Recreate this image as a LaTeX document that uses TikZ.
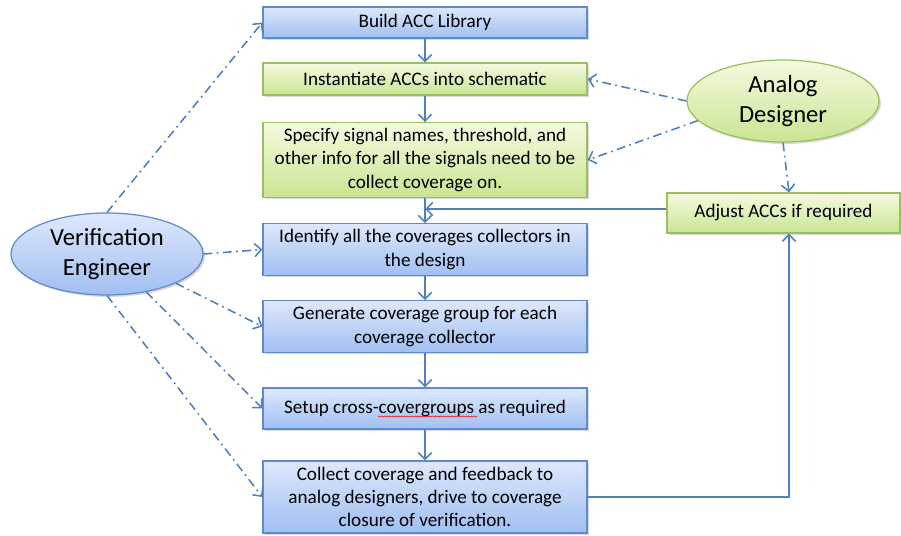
\documentclass[tikz,border=0pt]{standalone}
\usepackage{fontspec}
\setmainfont{Carlito}
\usetikzlibrary{arrows.meta,shadows,shapes.geometric,decorations.pathmorphing}

\definecolor{linie}{HTML}{4F81BD}
\definecolor{randblau}{HTML}{5F8ACB}
\definecolor{blauoben}{HTML}{DDE8FB}
\definecolor{blauunten}{HTML}{A0BFF2}
\definecolor{randgruen}{HTML}{9BBE5E}
\definecolor{gruenoben}{HTML}{F4FADF}
\definecolor{gruenunten}{HTML}{C8E592}

\begin{document}
\begin{tikzpicture}[
	kasten/.style={rectangle, draw=randblau, line width=0.7pt, top color=blauoben,
		bottom color=blauunten, minimum width=6.48cm, align=center,
		font=\fontsize{10.9}{13.2}\selectfont,
		drop shadow={opacity=0.3, shadow xshift=0.04cm, shadow yshift=-0.04cm}},
	gkasten/.style={kasten, draw=randgruen, top color=gruenoben, bottom color=gruenunten},
	rolle/.style={ellipse, draw=randblau, line width=0.7pt, top color=blauoben,
		bottom color=blauunten, minimum width=3.84cm, minimum height=1.64cm,
		inner sep=0pt, align=center, font=\fontsize{14}{17.1}\selectfont,
		drop shadow={opacity=0.3, shadow xshift=0.04cm, shadow yshift=-0.04cm}},
	grolle/.style={rolle, draw=randgruen, top color=gruenoben, bottom color=gruenunten},
	pfeil/.style={draw=linie, line width=0.9pt, -{Straight Barb[length=3.8pt,width=7.5pt]}},
	strichpunkt/.style={pfeil, dash pattern=on 5pt off 2.5pt on 1pt off 2.5pt}
]
	\useasboundingbox (0,0) rectangle (18.02,10.72);

	% Ablauf
	\node[kasten, minimum height=0.62cm] (lib) at (8.5,10.27) {Build ACC Library};
	\node[gkasten, minimum height=0.64cm] (inst) at (8.5,9.14) {Instantiate ACCs into schematic};
	\node[gkasten, minimum height=1.32cm] (spec) at (8.5,7.52) {Specify signal names, threshold, and\\
	other info for all the signals need to be\\ collect coverage on.};
	\node[kasten, minimum height=0.98cm] (ident) at (8.5,5.73) {Identify all the coverages collectors in\\
	the design};
	\node[kasten, minimum height=0.82cm] (gen) at (8.5,4.19) {Generate coverage group for each\\
	coverage collector};
	\node[kasten, minimum height=0.82cm] (cross) at (8.5,2.55) {Setup cross-covergroups as required};
	\node[kasten, minimum height=1.44cm] (collect) at (8.5,0.78) {Collect coverage and feedback to\\
	analog designers, drive to coverage\\ closure of verification.};
	\node[gkasten, minimum width=4.66cm, minimum height=0.80cm] (adjust) at (15.67,6.46)
	{Adjust ACCs if required};

	% Rollen
	\node[grolle] (analog) at (15.66,8.70) {Analog\\ Designer};
	\node[rolle] (verif) at (2.14,5.64) {Verification\\ Engineer};

	% Pfeile
	\draw[pfeil] (lib) -- (inst);
	\draw[pfeil] (inst) -- (spec);
	\draw[pfeil] (spec) -- (ident);
	\draw[pfeil] (ident) -- (gen);
	\draw[pfeil] (gen) -- (cross);
	\draw[pfeil] (cross) -- (collect);
	\draw[pfeil] (collect.east) -| ([xshift=0.11cm]adjust.south);
	\draw[pfeil] ([yshift=0.08cm]adjust.west) -- ([yshift=0.08cm]adjust.west -| spec.south);

	% Zuständigkeiten
	\draw[strichpunkt] (verif.north) -- (lib.west);
	\draw[strichpunkt] (verif.east) -- (ident.west);
	\draw[strichpunkt] (verif.-23) -- (gen.west);
	\draw[strichpunkt] (verif.-44) -- (cross.west);
	\draw[strichpunkt] (verif.south) -- (collect.west);
	\draw[strichpunkt] (analog.west) -- (inst.east);
	\draw[strichpunkt] (analog.193) -- (spec.east);
	\draw[strichpunkt] (analog.south) -- ([xshift=0.11cm]adjust.north);

	% Rechtschreibmarkierung
	\draw[red, line width=0.3pt, decorate, decoration={snake, amplitude=0.35pt,
	segment length=1.6pt}] (7.56,2.39) -- (9.54,2.39);
\end{tikzpicture}
\end{document}
